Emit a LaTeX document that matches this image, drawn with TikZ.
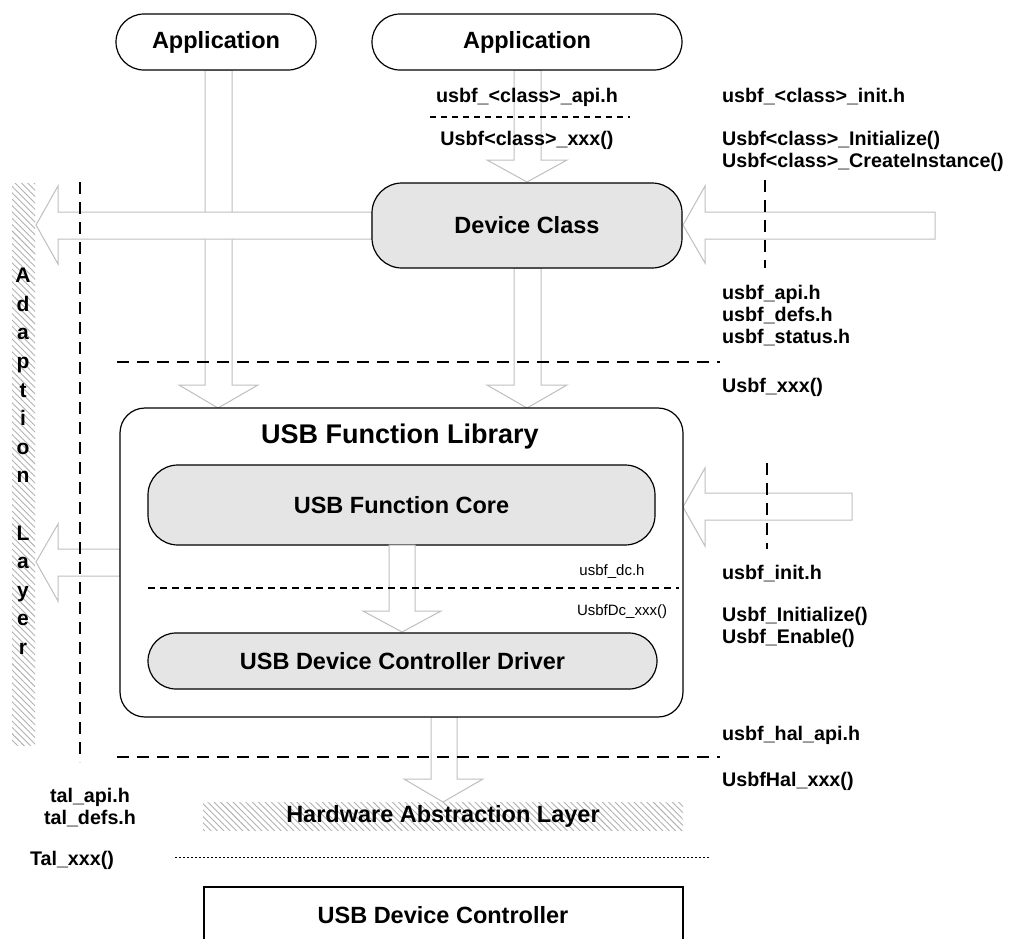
\documentclass[tikz,border=0pt]{standalone}
\usepackage{fontspec}
\setmainfont{Liberation Sans}
\usetikzlibrary{patterns.meta}
\begin{document}
\begin{tikzpicture}[x=1pt,y=-1pt,
  box/.style={draw=black,line width=1.2pt,fill=white,inner sep=0pt},
  graybox/.style={box,fill=black!10},
  hollow/.style={draw=black!25,fill=white,line width=1pt,line join=miter},
  bigdash/.style={line width=2.6pt,dash pattern=on 12pt off 8pt},
  lbl/.style={font=\fontsize{19.7}{22}\selectfont\bfseries,inner sep=0pt,anchor=base west},
  clbl/.style={font=\fontsize{19.7}{22}\selectfont\bfseries,inner sep=0pt,anchor=base},
  small/.style={font=\fontsize{15}{17}\selectfont,inner sep=0pt,anchor=base},
  big/.style={font=\fontsize{23.5}{26}\selectfont\bfseries,inner sep=0pt},
  hatch/.style={pattern={Lines[angle=-45,distance=4.5pt,line width=0.9pt]},pattern color=black!30},
]
\useasboundingbox (0,0) rectangle (1034,938);
\fill[white] (0,0) rectangle (1034,938);

% hatched layers
\fill[hatch] (12,183) rectangle (35,745);
\fill[hatch] (203,802) rectangle (683,830);

% hollow arrows
\draw[hollow] (205,70)--(205,385)--(179,385)--(218,408)--(258,385)--(232,385)--(232,70)--cycle;
\draw[hollow] (514,70)--(514,160)--(487,160)--(527,182)--(567,160)--(541,160)--(541,70)--cycle;
\draw[hollow] (514,268)--(514,385)--(487,385)--(527,408)--(567,385)--(541,385)--(541,268)--cycle;
\draw[hollow] (372,212)--(58,212)--(58,186)--(36,225)--(58,264)--(58,239)--(372,239)--cycle;
\draw[hollow] (935,212)--(705,212)--(705,186)--(683,225)--(705,263)--(705,239)--(935,239)--cycle;
\draw[hollow] (120,549)--(58,549)--(58,524)--(36,562)--(58,601)--(58,576)--(120,576)--cycle;
\draw[hollow] (852,493)--(705,493)--(705,468)--(683,507)--(705,546)--(705,520)--(852,520)--cycle;
\draw[hollow] (431,717)--(431,779)--(404,779)--(443,802)--(483,779)--(457,779)--(457,717)--cycle;

% boxes
\node[box,rounded corners=28pt,minimum width=200pt,minimum height=56pt,font=\fontsize{23.5}{26}\selectfont\bfseries] (app1) at (216,42) {Application};
\node[box,rounded corners=28pt,minimum width=310pt,minimum height=56pt,font=\fontsize{23.5}{26}\selectfont\bfseries] (app2) at (527,42) {Application};
\node[graybox,rounded corners=30pt,minimum width=310pt,minimum height=85pt,font=\fontsize{23.5}{26}\selectfont\bfseries] (dev) at (527,225.5) {Device Class};
\draw[box,rounded corners=25pt] (120,408) rectangle (683,717);
\node[font=\fontsize{27}{30}\selectfont\bfseries,inner sep=0pt] (libtitle) at (400,437) {USB Function Library};
\node[graybox,rounded corners=30pt,minimum width=507pt,minimum height=80pt,font=\fontsize{23.5}{26}\selectfont\bfseries] (core) at (401.5,505) {USB Function Core};

\draw[hollow] (389,545)--(389,611)--(363,611)--(402,632)--(441,611)--(415,611)--(415,545)--cycle;
\node[graybox,rounded corners=28pt,minimum width=509pt,minimum height=56pt,font=\fontsize{23.5}{26}\selectfont\bfseries] (drv) at (402.5,661) {USB Device Controller Driver};

\draw[line width=1.5pt,dash pattern=on 7pt off 5pt] (148,588) -- (679,588);
\node[small] (dch) at (612,575) {usbf\_dc.h};
\node[small] (dcx) at (622,615) {UsbfDc\_xxx()};

% HAL and controller
\node[big] (hal) at (443,816) {Hardware Abstraction Layer};
\draw[line width=1pt,dash pattern=on 1.5pt off 2.5pt] (175,857) -- (710,857);
\draw[line width=1.2pt] (204,950) -- (204,887) -- (683,887) -- (683,950);
\node[big] (udc) at (443,915) {USB Device Controller};

% dashed separators
\draw[bigdash] (80,182) -- (80,762);
\draw[bigdash] (117,362) -- (720,362);
\draw[bigdash] (117,757) -- (720,757);
\draw[bigdash] (765,180) -- (765,268);
\draw[bigdash] (767,463) -- (767,549);
\draw[line width=1.3pt,dash pattern=on 6pt off 5pt] (430,117) -- (630,117);

% vertical layer text
\node[font=\fontsize{21}{28.6}\selectfont\bfseries,align=center,inner sep=0pt,anchor=north] (adapt) at (23,268) {A\\d\\a\\p\\t\\i\\o\\n\\[28.6pt]L\\a\\y\\e\\r};

% middle labels
\node[clbl] (capi) at (527,102) {usbf\_<class>\_api.h};
\node[clbl] (cxxx) at (527,145) {Usbf<class>\_xxx()};

% right labels
\node[lbl] (r1) at (722,102) {usbf\_<class>\_init.h};
\node[lbl] (r2) at (722,145) {Usbf<class>\_Initialize()};
\node[lbl] (r3) at (722,167) {Usbf<class>\_CreateInstance()};
\node[lbl] (r4) at (722,299) {usbf\_api.h};
\node[lbl] (r5) at (722,321) {usbf\_defs.h};
\node[lbl] (r6) at (722,343) {usbf\_status.h};
\node[lbl] (r7) at (722,392) {Usbf\_xxx()};
\node[lbl] (r8) at (722,579) {usbf\_init.h};
\node[lbl] (r9) at (722,621) {Usbf\_Initialize()};
\node[lbl] (r10) at (722,643) {Usbf\_Enable()};
\node[lbl] (r11) at (722,740) {usbf\_hal\_api.h};
\node[lbl] (r12) at (722,786) {UsbfHal\_xxx()};

% left labels
\node[clbl] (l1) at (90,802) {tal\_api.h};
\node[clbl] (l2) at (90,824) {tal\_defs.h};
\node[clbl] (l3) at (72,865) {Tal\_xxx()};
\end{tikzpicture}
\end{document}
